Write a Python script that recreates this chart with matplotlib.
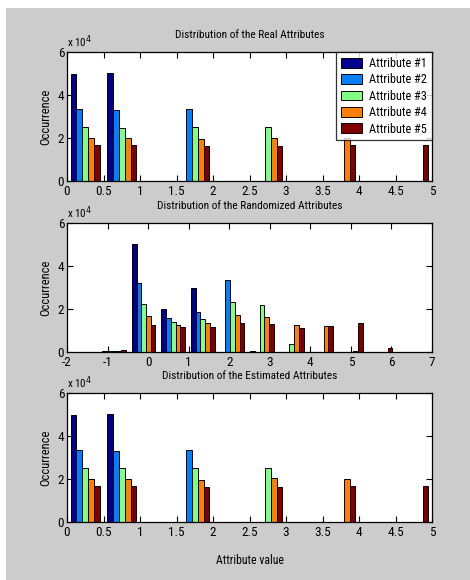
import numpy as np
import matplotlib
matplotlib.use("Agg")
import matplotlib.pyplot as plt
from matplotlib.patches import Rectangle
from matplotlib.ticker import FuncFormatter

plt.rcParams['font.family'] = ['Roboto Condensed', 'DejaVu Sans']

attributes = ["Attribute #1", "Attribute #2", "Attribute #3", "Attribute #4", "Attribute #5"]
colors = ["#00008f", "#0080ff", "#80ff80", "#ff8000", "#800000"]

# Real attributes: bin centres and counts per attribute
real_bins = [0.25, 0.75, 1.25, 1.75, 2.25, 2.75, 3.25, 3.75, 4.25, 4.75]
real_a1 = [50000, 50300, 0, 0, 0, 0, 0, 0, 0, 0]
real_a2 = [33500, 33100, 0, 33400, 0, 0, 0, 0, 0, 0]
real_a3 = [25100, 24600, 0, 25000, 0, 25000, 0, 0, 0, 0]
real_a4 = [20100, 20000, 0, 19600, 0, 20000, 0, 20100, 0, 0]
real_a5 = [16900, 16900, 0, 16500, 0, 16500, 0, 16900, 0, 16900]

# Randomized attributes
rand_bins = [-0.84, -0.11, 0.62, 1.35, 2.08, 2.81, 3.54, 4.27, 5.00, 5.73]
rand_a1 = [300, 50000, 20200, 30000, 0, 300, 0, 0, 0, 0]
rand_a2 = [300, 32300, 15800, 18800, 33300, 0, 0, 0, 0, 0]
rand_a3 = [300, 22300, 13800, 15200, 23200, 21900, 3500, 0, 0, 0]
rand_a4 = [400, 16600, 12400, 13400, 17000, 16500, 12500, 12000, 300, 0]
rand_a5 = [800, 12500, 11600, 11600, 13400, 13000, 11100, 12000, 13400, 1800]

# Estimated attributes
est_bins = real_bins
est_a1 = [50000, 50400, 0, 0, 0, 0, 0, 0, 0, 0]
est_a2 = [33400, 33000, 0, 33400, 0, 0, 0, 0, 0, 0]
est_a3 = [24900, 24900, 0, 24900, 0, 25300, 0, 0, 0, 0]
est_a4 = [20000, 19900, 0, 19500, 0, 20400, 0, 20000, 0, 0]
est_a5 = [16900, 16900, 0, 16500, 0, 16500, 0, 16900, 0, 16900]

titles = ["Distribution of the Real Attributes",
          "Distribution of the Randomized Attributes",
          "Distribution of the Estimated Attributes"]
x_ticks_real = [0, 0.5, 1, 1.5, 2, 2.5, 3, 3.5, 4, 4.5, 5]
x_ticks_rand = [-2, -1, 0, 1, 2, 3, 4, 5, 6, 7]
y_ticks = [0, 20000, 40000, 60000]

W, H = 470, 580
fig = plt.figure(figsize=(W / 100, H / 100), dpi=100, facecolor="white")
fig.patches.append(Rectangle((6 / W, 0), 1 - 6 / W, 1 - 8 / H,
                             transform=fig.transFigure, facecolor="#cccccc",
                             edgecolor="none", zorder=-10))

def place(top_px, bot_px):
    return [67 / W, 1 - bot_px / H, (432 - 67) / W, (bot_px - top_px) / H]

panels = [
    (place(52, 181), real_bins, [real_a1, real_a2, real_a3, real_a4, real_a5], (0, 5), x_ticks_real),
    (place(223, 352), rand_bins, [rand_a1, rand_a2, rand_a3, rand_a4, rand_a5], (-2, 7), x_ticks_rand),
    (place(393, 522), est_bins, [est_a1, est_a2, est_a3, est_a4, est_a5], (0, 5), x_ticks_real),
]

fmt_x = FuncFormatter(lambda v, p: ("%g" % v))
fmt_y = FuncFormatter(lambda v, p: ("%g" % (v / 1e4)))

axes = []
for i, (pos, bins, series, xlim, xt) in enumerate(panels):
    ax = fig.add_axes(pos)
    bins = np.asarray(bins)
    step = bins[1] - bins[0]
    w = step * 0.8 / 5
    for j, vals in enumerate(series):
        ax.bar(bins + (j - 2) * w, vals, width=w, color=colors[j],
               edgecolor="black", linewidth=0.7, label=attributes[j], zorder=2)
    ax.set_xlim(*xlim)
    ax.set_ylim(0, 60000)
    ax.set_xticks(xt)
    ax.set_yticks(y_ticks)
    ax.xaxis.set_major_formatter(fmt_x)
    ax.yaxis.set_major_formatter(fmt_y)
    ax.tick_params(direction="in", top=True, right=True, length=4, width=0.8,
                   labelsize=9.5)
    ax.tick_params(axis="x", pad=3)
    ax.tick_params(axis="y", pad=2)
    for s in ax.spines.values():
        s.set_linewidth(0.9)
    ax.set_title(titles[i], fontsize=8.2, pad=10)
    ax.set_ylabel("Occurrence", fontsize=9, labelpad=4)
    ax.text(0.0, 1.015, r"x 10$^4$", transform=ax.transAxes, fontsize=8,
            ha="left", va="bottom")
    axes.append(ax)

axes[2].set_xlabel("Attribute value", fontsize=8.5, labelpad=11)

leg = axes[0].legend(loc="upper right", fontsize=8.8, frameon=True, fancybox=False,
                     borderaxespad=0, handlelength=1.7, handleheight=0.85,
                     labelspacing=0.28, borderpad=0.4, handletextpad=0.6)
leg.get_frame().set_edgecolor("black")
leg.get_frame().set_linewidth(0.9)

fig.savefig("out.png", dpi=100, facecolor=fig.get_facecolor())
